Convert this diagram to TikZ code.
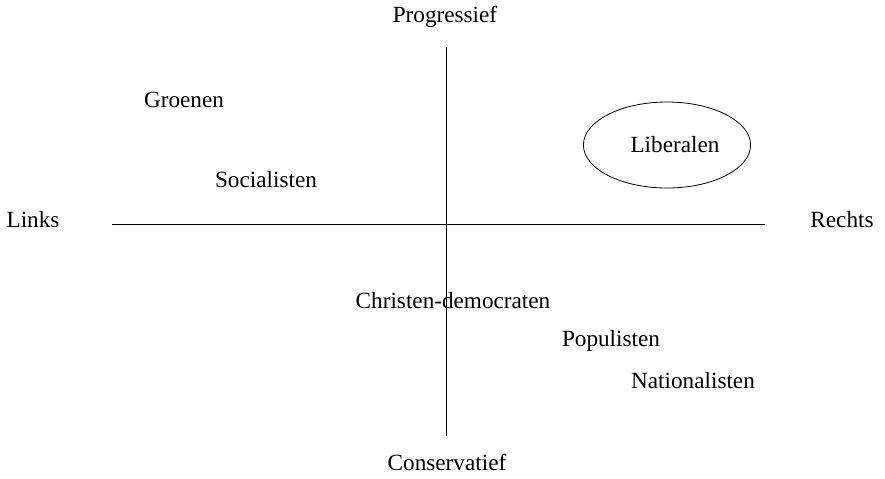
\documentclass[tikz,border=0pt]{standalone}
\usepackage{fontspec}
\setmainfont{Liberation Serif}
\usetikzlibrary{shapes.geometric}
\begin{document}
\begin{tikzpicture}[x=0.5pt, y=-0.5pt]
    % Define node styles
    \tikzstyle{party} = [inner sep=1pt, font=\fontsize{11.6}{14}\selectfont]
    \tikzstyle{axislabel} = [inner sep=1pt, font=\fontsize{11.6}{14}\selectfont]
    \tikzstyle{highlight} = [ellipse, draw, thin, minimum width=79.5pt, minimum height=43pt, font=\fontsize{11.6}{14}\selectfont]

    \useasboundingbox (0,0) rectangle (885,478);

    % Axes
    \coordinate (top) at (446,47);
    \coordinate (bottom) at (446,436);
    \coordinate (left) at (112,224);
    \coordinate (right) at (765,224);
    \draw[thin] (top) -- (bottom);
    \draw[thin] (left) -- (right);

    % Axis labels
    \node[axislabel] (prog) at (445,17) {Progressief};
    \node[axislabel] (cons) at (447,462) {Conservatief};
    \node[axislabel] (links) at (33,220) {Links};
    \node[axislabel] (rechts) at (842,220) {Rechts};

    % Parties
    \node[party] (groenen) at (184,100) {Groenen};
    \node[party] (soc) at (266,180) {Socialisten};
    \node[highlight] (lib) at (667,145) {\hspace{8pt}Liberalen};
    \node[party] (cda) at (453,301) {Christen-democraten};
    \node[party] (pop) at (611,341) {Populisten};
    \node[party] (nat) at (693,381) {Nationalisten};
\end{tikzpicture}
\end{document}
